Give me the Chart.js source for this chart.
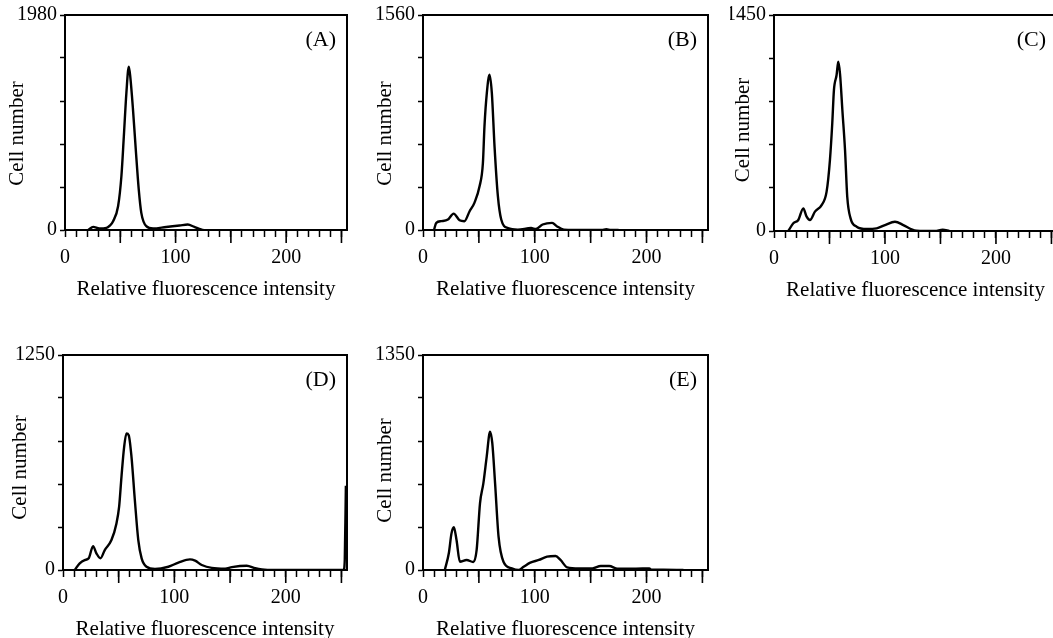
<!DOCTYPE html>
<html lang="en">
<head>
  <meta charset="utf-8">
  <title>Relative fluorescence intensity histograms</title>
  <style>
    body { margin: 0; background: #fff; overflow: hidden; width: 1053px; height: 638px; position: relative; }
    canvas { position: absolute; }
  </style>
</head>
<body>
  <canvas id="chartA"></canvas>
  <canvas id="chartB"></canvas>
  <canvas id="chartC"></canvas>
  <canvas id="chartD"></canvas>
  <canvas id="chartE"></canvas>

  <script src="https://cdn.jsdelivr.net/npm/chart.js"></script>
  <script>
    // x = relative fluorescence intensity, y = cell number
    const xA = [21, 25.5, 31, 37.5, 40.5, 43.5, 48, 51, 53.2, 55.5, 57.7, 59, 61.5, 64, 66.7, 69, 73.5, 79.6, 91.5, 103.6, 111, 117, 123, 125];
    const yA = [0, 29, 15, 20, 40, 81, 219, 495, 862, 1261, 1505, 1414, 1107, 740, 372, 158, 35, 14, 28, 41, 50, 28, 5, 0];

    const xB = [9.8, 11.9, 16.4, 22.3, 27.4, 32.7, 37, 41.7, 46, 50.6, 53.6, 55, 57.1, 59.5, 61.6, 64, 67, 70, 76, 84.8, 96.7, 101, 107, 115.5, 120, 126, 135, 160, 164, 168, 175];
    const yB = [0, 52, 64, 76, 119, 71, 64, 136, 197, 317, 486, 752, 993, 1126, 993, 607, 245, 76, 14, 3, 14, 7, 40, 52, 26, 3, 0, 0, 6, 0, 0];

    const xC = [12.9, 17.4, 21.9, 26.4, 29.4, 32.4, 36.9, 42.9, 47.4, 50.4, 52.5, 54, 56.4, 57.9, 59.5, 61.6, 64, 66, 69, 74.5, 83.5, 92.5, 100, 109, 116.5, 124, 128.5, 145, 152, 158];
    const yC = [0, 52, 74, 152, 96, 74, 130, 174, 264, 476, 723, 946, 1047, 1136, 1054, 812, 544, 230, 85, 29, 13, 18, 40, 62, 40, 11, 2, 0, 8, 0];

    const xD = [10.5, 15, 19.5, 23.1, 27, 30, 33.6, 37.5, 43.5, 48, 50.4, 52.5, 54.9, 57, 59, 61.5, 64.5, 67.6, 70.6, 75, 82.6, 94.6, 103.6, 114, 118.6, 124.6, 133.6, 145.6, 151.6, 165, 172.6, 178.6, 190, 252, 253, 254];
    const yD = [0, 39, 58, 68, 139, 97, 68, 116, 174, 271, 368, 542, 716, 794, 784, 658, 407, 174, 68, 19, 6, 19, 43, 62, 54, 29, 12, 8, 17, 25, 10, 3, 0, 0, 60, 490];

    const xE = [19.5, 23.1, 25.5, 27.6, 30, 33, 39, 45, 48, 51, 54, 57, 60, 62, 64.5, 67.6, 72, 79.5, 85.5, 90, 96, 103.6, 111, 118.6, 123, 129, 139.6, 151.6, 159, 166.6, 174, 190.5, 202.5, 204, 215, 233];
    const yE = [0, 105, 230, 268, 188, 52, 63, 50, 126, 419, 544, 712, 869, 796, 544, 209, 52, 10, 0, 20, 46, 63, 84, 88, 63, 17, 10, 10, 25, 25, 8, 8, 10, 3, 2, 0];

    // axis ticks
    const xTicks = [0, 10, 20, 30, 40, 50, 60, 70, 80, 90, 100, 110, 120, 130, 140, 150, 160, 170, 180, 190, 200, 210, 220, 230, 240, 250];
    const xMajorTicks = [50, 100, 150, 200, 250];
    const xLabels = [0, 100, 200];
    const yTicksA = [0, 396, 792, 1188, 1584, 1980];
    const yTicksB = [0, 312, 624, 936, 1248, 1560];
    const yTicksC = [0, 290, 580, 870, 1160, 1450];
    const yTicksD = [0, 250, 500, 750, 1000, 1250];
    const yTicksE = [0, 270, 540, 810, 1080, 1350];

    Chart.defaults.font.family = '"Liberation Serif", "Times New Roman", serif';
    Chart.defaults.color = '#000';

    const padL = 20, padT = 15, padR = 6, padB = 6, xH = 72;

    // box round the plot, long ticks every 50, panel letter, y title
    const framePlugin = {
      id: 'frame',
      afterDraw(chart, args, opts) {
        const { ctx, chartArea: a, scales: { x } } = chart;
        ctx.save();
        ctx.strokeStyle = '#000';
        ctx.lineWidth = 2;
        ctx.strokeRect(a.left, a.top, a.right - a.left, a.bottom - a.top);
        ctx.lineWidth = 1.6;
        ctx.beginPath();
        xMajorTicks.forEach(v => {
          const px = x.getPixelForValue(v);
          ctx.moveTo(px, a.bottom);
          ctx.lineTo(px, a.bottom + 13);
        });
        ctx.stroke();
        ctx.fillStyle = '#000';
        ctx.font = '22px "Liberation Serif"';
        ctx.textAlign = 'right';
        ctx.textBaseline = 'middle';
        ctx.fillText(opts.tag, a.right - 11, a.top + 25);

        ctx.font = '21px "Liberation Serif"';
        ctx.textAlign = 'center';
        ctx.translate(a.left - opts.titleGap, (a.top + a.bottom) / 2 + opts.titleShift);
        ctx.rotate(-Math.PI / 2);
        ctx.fillText('Cell number', 0, 0);
        ctx.restore();
      }
    };

    function makePanel(id, box, xs, ys, yTicks, tag) {
      const canvas = document.getElementById(id);
      const w = padL + box.yW + box.plotW + padR;
      const h = padT + box.plotH + xH + padB;
      canvas.width = w;
      canvas.height = h;
      canvas.style.left = (box.left - box.yW - padL) + 'px';
      canvas.style.top = (box.top - padT) + 'px';
      const yMax = yTicks[yTicks.length - 1];

      new Chart(canvas.getContext('2d'), {
        type: 'line',
        data: {
          datasets: [{
            data: xs.map((x, i) => ({ x: x, y: ys[i] })),
            borderColor: '#000',
            borderWidth: 2.4,
            pointRadius: 0,
            fill: false,
            cubicInterpolationMode: 'monotone'
          }]
        },
        options: {
          responsive: false,
          animation: false,
          events: [],
          layout: { padding: { left: padL, top: padT, right: padR, bottom: padB } },
          plugins: {
            legend: { display: false },
            tooltip: { enabled: false },
            frame: { tag: tag, titleGap: box.titleGap, titleShift: box.titleShift }
          },
          scales: {
            x: {
              type: 'linear', min: 0, max: 255,
              afterBuildTicks: s => { s.ticks = xTicks.map(v => ({ value: v })); },
              afterFit: s => { s.height = xH; },
              ticks: {
                autoSkip: false, maxRotation: 0, padding: 9,
                font: { size: 20 },
                callback: v => xLabels.includes(v) ? String(v) : ''
              },
              grid: { drawOnChartArea: false, tickLength: 7, tickColor: '#000', tickWidth: 1.5 },
              border: { color: '#000', width: 2 },
              title: { display: true, text: 'Relative fluorescence intensity', font: { size: 21 }, padding: 0 }
            },
            y: {
              type: 'linear', min: 0, max: yMax,
              afterBuildTicks: s => { s.ticks = yTicks.map(v => ({ value: v })); },
              afterFit: s => { s.width = box.yW; },
              ticks: {
                autoSkip: false, padding: 3,
                font: { size: 20 },
                callback: v => (v === 0 || v === yMax) ? String(v) : ''
              },
              grid: { drawOnChartArea: false, tickLength: 5, tickColor: '#000', tickWidth: 1.5 },
              border: { color: '#000', width: 2 }
            }
          }
        },
        plugins: [framePlugin]
      });
    }

    makePanel('chartA', { left: 65, top: 15, plotW: 282, plotH: 215, yW: 61, titleGap: 48, titleShift: 11 }, xA, yA, yTicksA, '(A)');
    makePanel('chartB', { left: 423, top: 15, plotW: 285, plotH: 215, yW: 51, titleGap: 38, titleShift: 11 }, xB, yB, yTicksB, '(B)');
    makePanel('chartC', { left: 774, top: 15, plotW: 283, plotH: 216, yW: 44, titleGap: 31, titleShift: 7 }, xC, yC, yTicksC, '(C)');
    makePanel('chartD', { left: 63, top: 355, plotW: 284, plotH: 215, yW: 56, titleGap: 43, titleShift: 5 }, xD, yD, yTicksD, '(D)');
    makePanel('chartE', { left: 423, top: 355, plotW: 285, plotH: 215, yW: 51, titleGap: 38, titleShift: 8 }, xE, yE, yTicksE, '(E)');
  </script>
</body>
</html>
